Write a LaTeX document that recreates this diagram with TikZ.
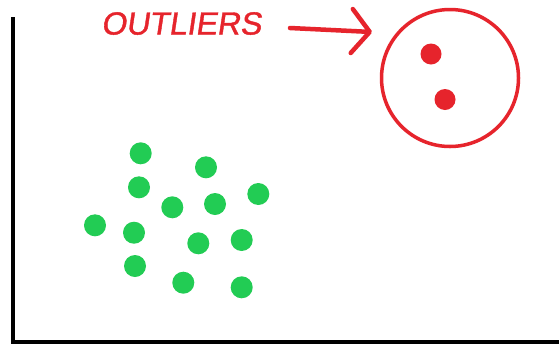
\documentclass[tikz,border=0pt]{standalone}
\usepackage{fontspec}
\newfontfamily\labelfont[FakeSlant=0.15,FakeBold=1.2]{Liberation Sans}
\usetikzlibrary{arrows.meta}
\definecolor{dotgreen}{RGB}{34,204,84}
\definecolor{outred}{RGB}{230,36,44}
\tikzset{
  gdot/.style={circle,fill=dotgreen,inner sep=0pt,minimum size=22pt},
  rdot/.style={circle,fill=outred,inner sep=0pt,minimum size=21pt},
  axisline/.style={line width=4pt,black,line cap=rect},
}
\begin{document}
\begin{tikzpicture}[x=1pt,y=-1pt]
\useasboundingbox (0,0) rectangle (559,349);
\fill[white] (0,0) rectangle (559,349);
% axes
\coordinate (ytop) at (12.5,19);
\coordinate (origin) at (12.5,341.5);
\coordinate (xend) at (561,341.5);
\draw[axisline] (ytop) -- (origin) -- (xend);
% label and arrow
\node[text=outred,font=\labelfont\fontsize{32}{32}\selectfont,inner sep=0pt,anchor=west] (lab) at (101,23.5) {OUTLIERS};
\coordinate (tip) at (372,32);
\draw[outred,line width=4.5pt,line cap=round,-{Straight Barb[length=18pt,width=44pt,round]}] (290,28) coordinate (tail) -- (tip);
% outlier circle
\node[draw=outred,line width=3.5pt,circle,minimum size=137pt,inner sep=0pt] (ring) at (450,78) {};
\node[rdot] (r1) at (431,54) {};
\node[rdot] (r2) at (445,99.5) {};
% green cluster
\node[gdot] (g1) at (140.7,153.3) {};
\node[gdot] (g2) at (206,167.3) {};
\node[gdot] (g3) at (139,187.3) {};
\node[gdot] (g4) at (258.3,194) {};
\node[gdot] (g5) at (172.3,207.3) {};
\node[gdot] (g6) at (215,204) {};
\node[gdot] (g7) at (95,225.3) {};
\node[gdot] (g8) at (134,232.7) {};
\node[gdot] (g9) at (198.3,243.3) {};
\node[gdot] (g10) at (241.7,240) {};
\node[gdot] (g11) at (135,266) {};
\node[gdot] (g12) at (183.3,282.7) {};
\node[gdot] (g13) at (241.7,287.3) {};
\end{tikzpicture}
\end{document}
